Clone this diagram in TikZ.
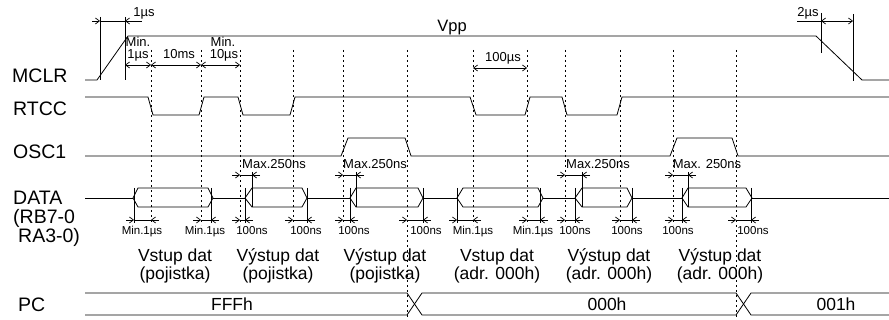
\documentclass[tikz,border=0pt]{standalone}
\usepackage{fontspec}
\setmainfont{Liberation Sans}
\usetikzlibrary{arrows.meta}

\begin{document}
\begin{tikzpicture}[
  x=1pt, y=-1pt,
  sig/.style={anchor=base west, inner sep=0pt, font=\fontsize{19.5}{20}\selectfont},
  big/.style={align=center, inner sep=0pt, font=\fontsize{17.5}{18}\selectfont},
  note/.style={anchor=base, inner sep=0pt, font=\fontsize{13}{14}\selectfont},
  tiny/.style={anchor=base, inner sep=0pt, font=\fontsize{11.5}{12}\selectfont},
  wave/.style={line width=0.8pt, line join=miter},
  guide/.style={line width=0.8pt, dash pattern=on 2pt off 3pt},
  tickline/.style={line width=0.8pt},
  dim/.style={line width=0.7pt, -{Straight Barb[length=4pt,width=6pt]}},
  dimboth/.style={line width=0.7pt, {Straight Barb[length=4pt,width=6pt]}-{Straight Barb[length=4pt,width=6pt]}}
]
\path[fill=white, use as bounding box] (0,0) rectangle (889,320);

% signal names
\node[sig] (mclr) at (12,83) {MCLR};
\node[sig] (rtcc) at (13,116) {RTCC};
\node[sig] (osc) at (13,159) {OSC1};
\node[sig] (data) at (13,205) {DATA};
\node[sig] (rb) at (13,224) {(RB7-0};
\node[sig] (ra) at (18,243) {RA3-0)};
\node[sig] (pc) at (18,312) {PC};

% guide lines
\foreach \x in {151,201,240,293,343,473,527,565,620,673}
  \draw[guide] (\x,50) -- (\x,225);
\foreach \x in {407,736}
  \draw[guide] (\x,50) -- (\x,320);

% waveforms
\draw[wave] (85,80) -- (97,80) -- (128,36) -- (816,36) -- (862,80) -- (889,80);
\draw[wave] (85,97) -- (148,97) -- (153,115) -- (199,115) -- (204,97) -- (238,97) -- (243,115)
  -- (290,115) -- (295,97) -- (470,97) -- (476,115) -- (525,115) -- (530,97) -- (562,97)
  -- (567,115) -- (617,115) -- (622,97) -- (889,97);
\draw[wave] (85,156) -- (341,156) -- (348,138) -- (405,138) -- (411,156) -- (670,156)
  -- (677,138) -- (732,138) -- (738,156) -- (889,156);
\draw[wave] (85,198) -- (133,198) (213,198) -- (245,198) (307,198) -- (350,198)
  (423,198) -- (457,198) (543,198) -- (575,198) (632,198) -- (682,198) (752,198) -- (889,198);
\foreach \a/\b/\c/\d in {133/138/208/213, 245/252/302/307, 350/356/418/423,
    457/463/538/543, 575/582/627/632, 682/688/746/752}
  \draw[wave] (\a,198) -- (\b,188) -- (\c,188) -- (\d,198) -- (\c,207) -- (\b,207) -- cycle;
\draw[wave] (85,293) -- (407,293) -- (422,315) -- (736,315) -- (751,293) -- (889,293);
\draw[wave] (85,315) -- (407,315) -- (422,293) -- (736,293) -- (751,315) -- (889,315);

% timing marks
\draw[tickline] (100,17) -- (100,80) (125,17) -- (125,80) (821,13) -- (821,53) (853,14) -- (853,81);
\foreach \x in {134,211,245,307,350,423,457,540,575,632,682,751}
  \draw[tickline] (\x,188) -- (\x,223);
\foreach \x in {252,356,582,688}
  \draw[tickline] (\x,172) -- (\x,207);
\foreach \a/\b/\y in {134/151/220, 201/211/220, 240/245/220, 293/307/220, 343/350/220,
    407/423/220, 457/473/220, 527/540/220, 565/575/220, 620/632/220, 673/682/220,
    736/751/220, 240/252/175, 343/356/175, 565/582/175, 673/688/175}
{
  \draw[dim] (\a-8,\y) -- (\a,\y);
  \draw[tickline] (\a,\y) -- (\b,\y);
  \draw[dim] (\b+8,\y) -- (\b,\y);
}
\draw[dim] (92,21) -- (100,21);
\draw[tickline] (100,21) -- (142,21);
\draw[dim] (133,21) -- (125,21);
\draw[dimboth] (125,65) -- (151,65);
\draw[dimboth] (151,65) -- (201,65);
\draw[dimboth] (201,65) -- (240,65);
\draw[dimboth] (473,68) -- (527,68);
\draw[tickline] (797,21) -- (821,21);
\draw[dimboth] (821,21) -- (853,21);

% timing labels
\node[note, font=\fontsize{16.5}{17}\selectfont] (vpp) at (452,32) {Vpp};
\node[note] (trise) at (144,17) {1µs};
\node[note] (tfall) at (808,17) {2µs};
\node[note] (mina) at (138,47) {Min.};
\node[note] (minaval) at (138,59) {1µs};
\node[note] (tms) at (179,59) {10ms};
\node[note] (minb) at (223,47) {Min.};
\node[note] (minbval) at (224,59) {10µs};
\node[note] (thold) at (503,62) {100µs};
\node[note] (maxa) at (274,169) {Max.250ns};
\node[note] (maxb) at (375,169) {Max.250ns};
\node[note] (maxc) at (598,169) {Max.250ns};
\node[note] (maxd) at (707,169) {Max. 250ns};
\node[tiny] (la) at (142,235) {Min.1µs};
\node[tiny] (lb) at (205,235) {Min.1µs};
\node[tiny] (lc) at (252,235) {100ns};
\node[tiny] (ld) at (306,235) {100ns};
\node[tiny] (le) at (354,235) {100ns};
\node[tiny] (lf) at (426,235) {100ns};
\node[tiny] (lg) at (473,235) {Min.1µs};
\node[tiny] (lh) at (533,235) {Min.1µs};
\node[tiny] (li) at (575,235) {100ns};
\node[tiny] (lj) at (627,235) {100ns};
\node[tiny] (lk) at (678,235) {100ns};
\node[tiny] (ll) at (753,235) {100ns};

% phases
\node[big] (inpoj) at (175,266) {Vstup dat\\(pojistka)};
\node[big] (outpoja) at (278,266) {Výstup dat\\(pojistka)};
\node[big] (outpojb) at (385,266) {Výstup dat\\(pojistka)};
\node[big] (inadr) at (497,266) {Vstup dat\\(adr. 000h)};
\node[big] (outadra) at (609,266) {Výstup dat\\(adr. 000h)};
\node[big] (outadrb) at (720,266) {Výstup dat\\(adr. 000h)};
\node[big] (pcfff) at (232,304) {FFFh};
\node[big] (pczero) at (607,304) {000h};
\node[big] (pcone) at (836,304) {001h};

\end{tikzpicture}
\end{document}
